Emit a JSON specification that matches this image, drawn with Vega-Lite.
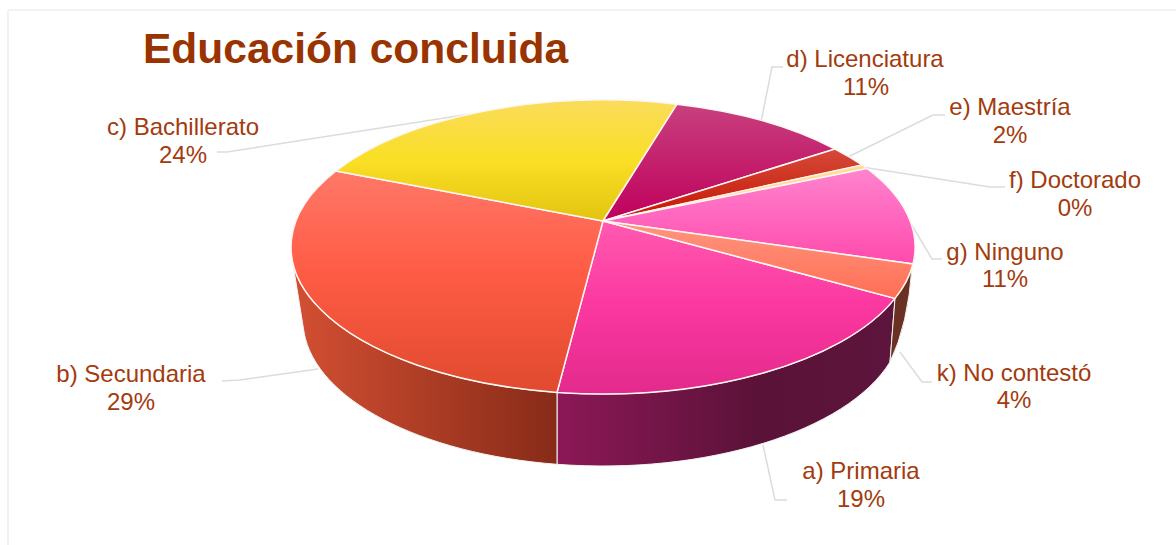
{
  "$schema": "https://vega.github.io/schema/vega-lite/v6.json",
  "width": 1168,
  "height": 535,
  "autosize": "none",
  "padding": {"left": 8, "top": 10, "right": 0, "bottom": 0},
  "background": "white",
  "view": {"stroke": null},
  "title": {"text": "Educación concluida", "anchor": "start", "frame": "group", "dx": 135, "dy": 100, "offset": 4, "baseline": "alphabetic", "font": "Liberation Sans", "fontSize": 42.5, "fontWeight": "bold", "color": "#993300"},
  "data": {"values": [
    {"orden": 1, "slice": "a) Primaria", "pct": 0.19},
    {"orden": 2, "slice": "b) Secundaria", "pct": 0.29},
    {"orden": 3, "slice": "c) Bachillerato", "pct": 0.24},
    {"orden": 4, "slice": "d) Licenciatura", "pct": 0.11},
    {"orden": 5, "slice": "e) Maestría", "pct": 0.02},
    {"orden": 6, "slice": "f) Doctorado", "pct": 0.0},
    {"orden": 7, "slice": "g) Ninguno", "pct": 0.11},
    {"orden": 8, "slice": "k) No contestó", "pct": 0.04}
  ]},
  "resolve": {"scale": {"x": "independent", "y": "independent", "shape": "independent"}},
  "layer": [
    {
      "data": {"values": [{"marco": "izquierda"}]},
      "mark": {"type": "rule", "color": "#f2f2f2", "strokeWidth": 2},
      "encoding": {"x": {"datum": 0, "type": "quantitative", "scale": {"domain": [0, 1]}, "axis": null}}
    },
    {
      "data": {"values": [{"marco": "arriba"}]},
      "mark": {"type": "rule", "color": "#f2f2f2", "strokeWidth": 2},
      "encoding": {"y": {"datum": 0, "type": "quantitative", "scale": {"domain": [0, 1], "reverse": true}, "axis": null}}
    },
    {
      "mark": {"type": "point", "filled": false, "size": 4, "stroke": "#dcdcdc", "strokeWidth": 1.5, "opacity": 1},
      "encoding": {
        "shape": {"field": "slice", "type": "nominal", "legend": null, "scale": {
          "domain": ["a) Primaria", "b) Secundaria", "c) Bachillerato", "d) Licenciatura", "e) Maestría", "f) Doctorado", "g) Ninguno", "k) No contestó"],
          "range": [
            "M195 222.5L183 222.5L171 167.5",
            "M-370 103.5L-352 102.5L-274 91.5",
            "M-375 -125.5L-365 -125.5L-122 -163.5",
            "M191 -210.5L180 -210.5L169 -155.5",
            "M353 -162.5L341 -162.5L256 -120.5",
            "M413 -90.5L398 -90.5L270 -110.5",
            "M350 -18.5L340 -18.5L318 -55.5",
            "M340 104.5L330 104.5L308 74.5"
          ]
        }}
      }
    },
    {
      "encoding": {
        "shape": {"field": "slice", "type": "nominal", "legend": null, "scale": {
          "domain": ["a) Primaria", "b) Secundaria", "k) No contestó"],
          "range": [
            "M-35 114.9A312 147 0 0 0 303 20.9L298 84.5A300 146 0 0 1 -35 186.8Z",
            "M-299 -13.5A312 147 0 0 0 -35 114.9L-35 186.8A300 146 0 0 1 -288 54.5Z",
            "M303 20.9A312 147 0 0 0 320 -10.5Q316 47.5 298 84.5Z"
          ]
        }}
      },
      "layer": [
        {"transform": [{"filter": {"field": "orden", "equal": 1}}], "mark": {"type": "point", "filled": true, "size": 4, "stroke": "#f4f4f4", "strokeWidth": 1, "opacity": 1, "fill": {"gradient": "linear", "x1": 0, "y1": 0, "x2": 1, "y2": 0, "stops": [{"offset": 0, "color": "#8c1857"}, {"offset": 0.6, "color": "#5a1238"}, {"offset": 1, "color": "#5e153d"}]}}},
        {"transform": [{"filter": {"field": "orden", "equal": 2}}], "mark": {"type": "point", "filled": true, "size": 4, "stroke": "#f4f4f4", "strokeWidth": 1, "opacity": 1, "fill": {"gradient": "linear", "x1": 0, "y1": 0, "x2": 1, "y2": 0, "stops": [{"offset": 0, "color": "#d34f32"}, {"offset": 1, "color": "#872b18"}]}}},
        {"transform": [{"filter": {"field": "orden", "equal": 8}}], "mark": {"type": "point", "filled": true, "size": 4, "stroke": "#f4f4f4", "strokeWidth": 1, "opacity": 1, "fill": "#6a3022"}}
      ]
    },
    {
      "encoding": {
        "shape": {"field": "slice", "type": "nominal", "legend": null, "scale": {
          "domain": ["a) Primaria", "b) Secundaria", "c) Bachillerato", "d) Licenciatura", "e) Maestría", "f) Doctorado", "g) Ninguno", "k) No contestó"],
          "range": [
            "M11 -56.5L303 20.9A312 147 0 0 1 -35 114.9Z",
            "M11 -56.5L-35 114.9A312 147 0 0 1 -256 -106.5Z",
            "M11 -56.5L-256 -106.5A312 147 0 0 1 85 -173.3Z",
            "M11 -56.5L85 -173.3A312 147 0 0 1 243 -128.5Z",
            "M11 -56.5L243 -128.5A312 147 0 0 1 270 -112.5Z",
            "M11 -56.5L270 -112.5A312 147 0 0 1 275 -109Z",
            "M11 -56.5L275 -109A312 147 0 0 1 321 -13.5Z",
            "M11 -56.5L321 -13.5A312 147 0 0 1 303 20.9Z"
          ]
        }}
      },
      "layer": [
        {"transform": [{"filter": {"field": "orden", "equal": 1}}], "mark": {"type": "point", "filled": true, "size": 4, "stroke": "#fff6f2", "strokeWidth": 1.5, "opacity": 1, "fill": {"gradient": "linear", "x1": 0, "y1": 0, "x2": 0, "y2": 1, "stops": [{"offset": 0, "color": "#ff5ab0"}, {"offset": 0.5, "color": "#fb37a0"}, {"offset": 1, "color": "#e32a8c"}]}}},
        {"transform": [{"filter": {"field": "orden", "equal": 2}}], "mark": {"type": "point", "filled": true, "size": 4, "stroke": "#fff6f2", "strokeWidth": 1.5, "opacity": 1, "fill": {"gradient": "linear", "x1": 0, "y1": 0, "x2": 0, "y2": 1, "stops": [{"offset": 0, "color": "#ff7868"}, {"offset": 0.45, "color": "#ff5c45"}, {"offset": 1, "color": "#e04a2e"}]}}},
        {"transform": [{"filter": {"field": "orden", "equal": 3}}], "mark": {"type": "point", "filled": true, "size": 4, "stroke": "#fff6f2", "strokeWidth": 1.5, "opacity": 1, "fill": {"gradient": "linear", "x1": 0, "y1": 0, "x2": 0, "y2": 1, "stops": [{"offset": 0, "color": "#fadc5c"}, {"offset": 0.5, "color": "#fadf25"}, {"offset": 1, "color": "#e2c410"}]}}},
        {"transform": [{"filter": {"field": "orden", "equal": 4}}], "mark": {"type": "point", "filled": true, "size": 4, "stroke": "#fff6f2", "strokeWidth": 1.5, "opacity": 1, "fill": {"gradient": "linear", "x1": 0, "y1": 0, "x2": 0, "y2": 1, "stops": [{"offset": 0, "color": "#c8407e"}, {"offset": 1, "color": "#c0005c"}]}}},
        {"transform": [{"filter": {"field": "orden", "equal": 5}}], "mark": {"type": "point", "filled": true, "size": 4, "stroke": "#fff6f2", "strokeWidth": 1.5, "opacity": 1, "fill": {"gradient": "linear", "x1": 0, "y1": 0, "x2": 0, "y2": 1, "stops": [{"offset": 0, "color": "#d44a3a"}, {"offset": 1, "color": "#c81400"}]}}},
        {"transform": [{"filter": {"field": "orden", "equal": 6}}], "mark": {"type": "point", "filled": true, "size": 4, "stroke": "#fff6f2", "strokeWidth": 1, "opacity": 1, "fill": "#ffdc98"}},
        {"transform": [{"filter": {"field": "orden", "equal": 7}}], "mark": {"type": "point", "filled": true, "size": 4, "stroke": "#fff6f2", "strokeWidth": 1.5, "opacity": 1, "fill": {"gradient": "linear", "x1": 0, "y1": 0, "x2": 0, "y2": 1, "stops": [{"offset": 0, "color": "#ff84cf"}, {"offset": 1, "color": "#ff4aad"}]}}},
        {"transform": [{"filter": {"field": "orden", "equal": 8}}], "mark": {"type": "point", "filled": true, "size": 4, "stroke": "#fff6f2", "strokeWidth": 1.5, "opacity": 1, "fill": {"gradient": "linear", "x1": 0, "y1": 0, "x2": 0, "y2": 1, "stops": [{"offset": 0, "color": "#ff9680"}, {"offset": 1, "color": "#ff6e54"}]}}}
      ]
    },
    {
      "mark": {"type": "text", "font": "Liberation Sans", "fontSize": 24, "color": "#a33b0e", "align": "center", "baseline": "middle"},
      "encoding": {
        "text": {"field": "slice", "type": "nominal"},
        "x": {"field": "orden", "type": "quantitative", "axis": null, "scale": {"domain": [1, 2, 3, 4, 5, 6, 7, 8], "range": [853, 123, 175, 857, 1002, 1067, 997, 1006]}},
        "y": {"field": "orden", "type": "quantitative", "axis": null, "scale": {"domain": [1, 2, 3, 4, 5, 6, 7, 8], "range": [462, 365, 118, 50, 98, 171, 243, 364]}}
      }
    },
    {
      "mark": {"type": "text", "font": "Liberation Sans", "fontSize": 24, "color": "#a33b0e", "align": "center", "baseline": "middle"},
      "encoding": {
        "text": {"field": "pct", "type": "quantitative", "format": ".0%"},
        "x": {"field": "orden", "type": "quantitative", "axis": null, "scale": {"domain": [1, 2, 3, 4, 5, 6, 7, 8], "range": [853, 123, 175, 858, 1002, 1067, 997, 1006]}},
        "y": {"field": "orden", "type": "quantitative", "axis": null, "scale": {"domain": [1, 2, 3, 4, 5, 6, 7, 8], "range": [490, 393, 146, 78, 126, 199, 270, 391]}}
      }
    }
  ]
}
